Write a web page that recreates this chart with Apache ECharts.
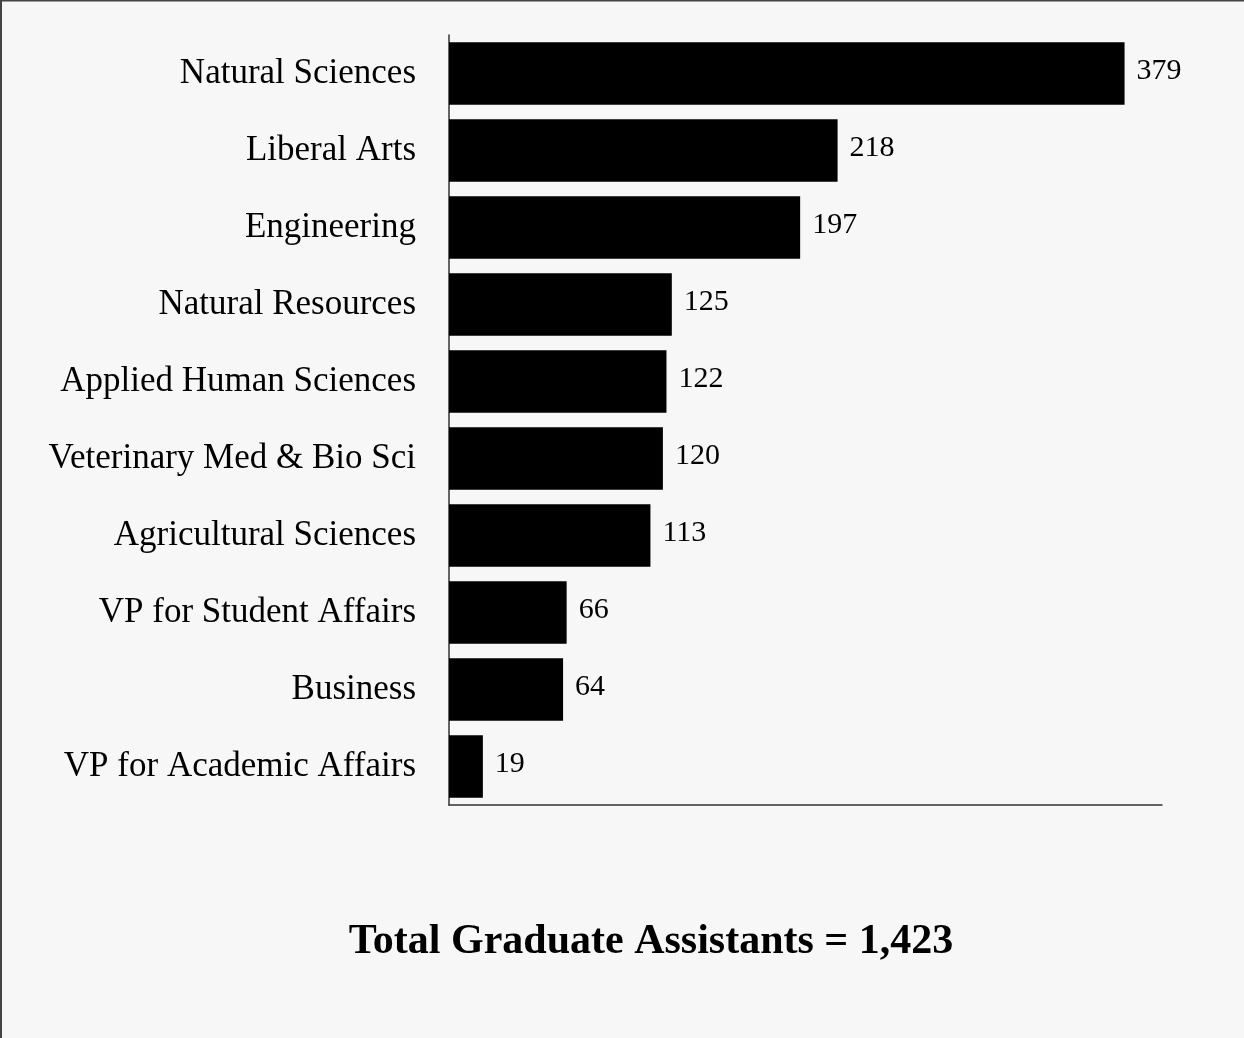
<!DOCTYPE html>
<html>
<head>
<meta charset="utf-8">
<script src="https://cdn.jsdelivr.net/npm/echarts@6/dist/echarts.min.js"></script>
<style>
html,body{margin:0;padding:0;background:#f7f7f7;}
#chart{width:1244px;height:1038px;}
</style>
</head>
<body>
<div id="chart"></div>
<script>
const categories = [
  "Natural Sciences",
  "Liberal Arts",
  "Engineering",
  "Natural Resources",
  "Applied Human Sciences",
  "Veterinary Med & Bio Sci",
  "Agricultural Sciences",
  "VP for Student Affairs",
  "Business",
  "VP for Academic Affairs"
];
const values = [379, 218, 197, 125, 122, 120, 113, 66, 64, 19];
const titleText = "Total Graduate Assistants = 1,423";

const FONT = '"Liberation Serif", "Times New Roman", serif';
const chart = echarts.init(document.getElementById('chart'), null, {renderer: 'canvas'});
chart.setOption({
  backgroundColor: '#f7f7f7',
  animation: false,
  grid: {left: 449, right: 82, top: 35, bottom: 233, containLabel: false},
  xAxis: {
    type: 'value',
    min: 0,
    max: 400,
    axisLine: {show: true, lineStyle: {color: '#333', width: 1.5}},
    axisTick: {show: false},
    axisLabel: {show: false},
    splitLine: {show: false}
  },
  yAxis: {
    type: 'category',
    inverse: true,
    data: categories,
    axisLine: {show: true, lineStyle: {color: '#333', width: 1.5}},
    axisTick: {show: false},
    axisLabel: {
      fontFamily: FONT,
      fontSize: 35,
      color: '#000',
      margin: 33,
      padding: [10, 0, 0, 0]
    }
  },
  series: [{
    type: 'bar',
    data: values,
    barCategoryGap: '19%',
    itemStyle: {color: '#000'},
    label: {
      show: true,
      position: 'right',
      distance: 12,
      offset: [0, -2],
      fontFamily: FONT,
      fontSize: 30,
      color: '#000'
    }
  }],
  graphic: [
    {type: 'rect', left: 0, top: 0, shape: {width: 2, height: 1038}, style: {fill: '#444'}},
    {type: 'rect', left: 0, top: 0, shape: {width: 1244, height: 1.5}, style: {fill: '#444'}},
    {
      type: 'text',
      x: 651,
      y: 942,
      style: {
        text: titleText,
        fontFamily: FONT,
        fontSize: 42,
        fontWeight: 'bold',
        fill: '#000',
        align: 'center',
        verticalAlign: 'middle'
      }
    }
  ]
});
</script>
</body>
</html>
